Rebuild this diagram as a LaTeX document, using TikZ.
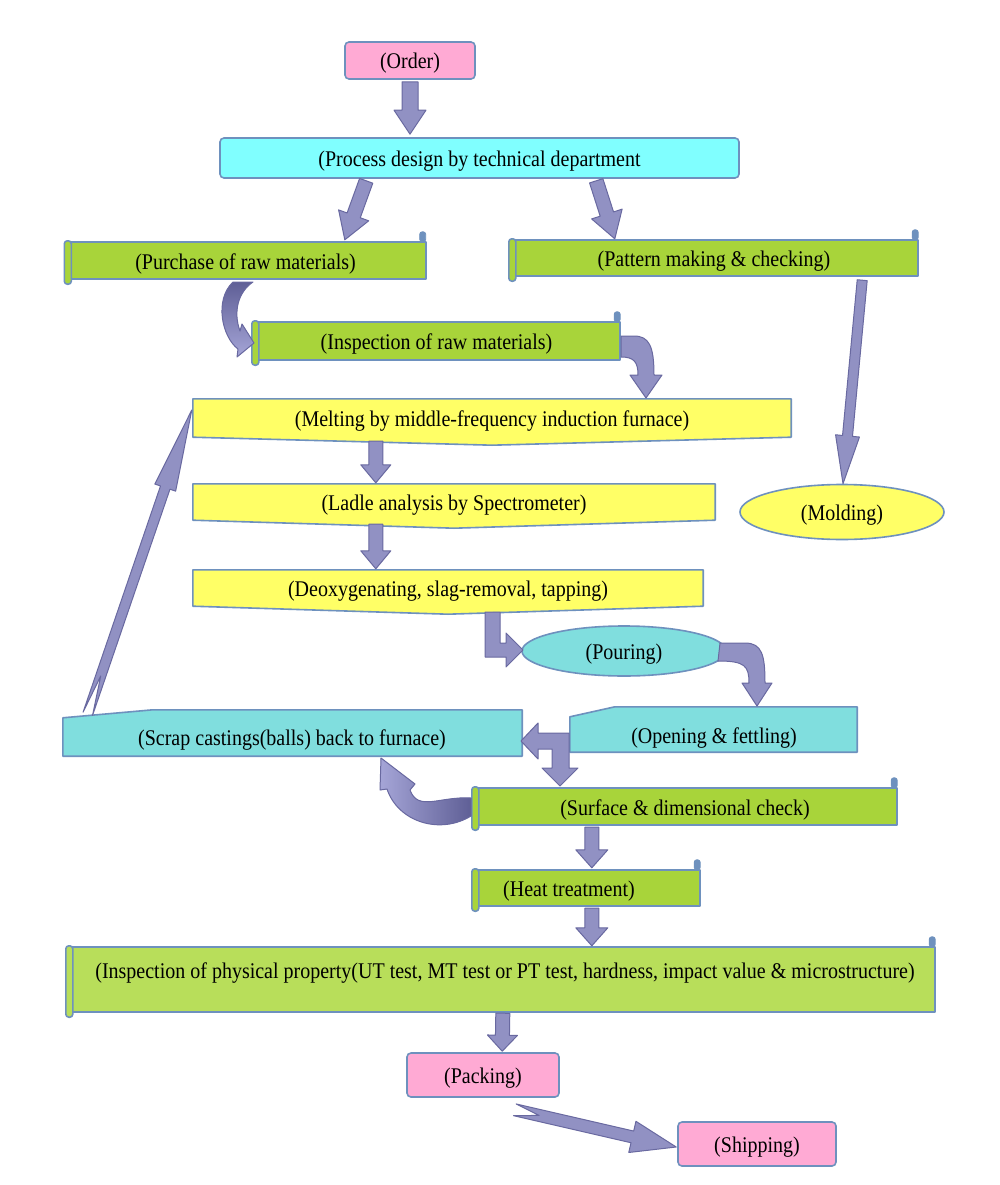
\documentclass[tikz,border=0pt]{standalone}
\usepackage{fontspec}
\usepackage{graphicx}
\setmainfont{Liberation Serif}
\usetikzlibrary{calc,shapes.geometric,backgrounds}
\definecolor{bord}{RGB}{110,145,190}
\definecolor{pinkf}{RGB}{255,170,212}
\definecolor{cyanA}{RGB}{128,255,255}
\definecolor{cyanB}{RGB}{128,222,222}
\definecolor{yelf}{RGB}{255,255,102}
\definecolor{grnf}{RGB}{168,212,58}
\definecolor{grnL}{RGB}{184,222,90}
\definecolor{arrf}{RGB}{145,145,195}
\definecolor{arrd}{RGB}{105,105,160}
\definecolor{arrk}{RGB}{95,95,150}
\definecolor{arrl}{RGB}{165,165,215}
\newcommand{\vtx}[1]{\scalebox{1}[1.12]{#1}}
\tikzset{
  lbl/.style={font=\fontsize{20}{22}\selectfont, text height=21pt, text depth=4pt},
  plain/.style={rectangle, inner sep=0, lbl},
  pinkbox/.style={plain, draw=bord, fill=pinkf, line width=1.6, rounded corners=4},
  cyanbox/.style={plain, draw=bord, fill=cyanA, line width=1.6, rounded corners=4},
  ovalnode/.style={ellipse, inner sep=0, draw=bord, line width=1.6, lbl},
  shapeline/.style={draw=bord, line width=1.6, line join=round},
  arrsty/.style={fill=arrf, draw=arrd, line width=1, line join=round},
}
\newcommand{\bxarrow}[5]{%
  \coordinate (bxh) at ($(#2)!#5!(#1)$);
  \filldraw[arrsty] ($(#1)!#3!90:(#2)$) -- ($(bxh)!#3!-90:(#1)$) -- ($(bxh)!#4!-90:(#1)$) -- (#2) -- ($(bxh)!#4!90:(#1)$) -- ($(bxh)!#3!90:(#1)$) -- ($(#1)!#3!-90:(#2)$) -- cycle;}
\newcommand{\bxarrowN}[6]{%
  \coordinate (bxh) at ($(#2)!#5!(#1)$);
  \filldraw[arrsty] ($(#1)!#3!90:(#2)$) -- ($(bxh)!#3!-90:(#1)$) -- ($(bxh)!#4!-90:(#1)$) -- (#2) -- ($(bxh)!#4!90:(#1)$) -- ($(bxh)!#3!90:(#1)$) -- ($(#1)!#3!-90:(#2)$) -- ($(#1)!#6!(#2)$) -- cycle;}
\newcommand{\greenscroll}[2][grnf]{%
  \begin{pgfonlayer}{background}
  \filldraw[shapeline, fill=bord, rounded corners=2.5, line width=0.8] ($(#2.north east)+(-6,0)$) rectangle ($(#2.north east)+(0,-10)$);
  \filldraw[shapeline, fill=#1] ($(#2.north west)+(3,0)$) rectangle (#2.south east);
  \filldraw[shapeline, fill=#1, rounded corners=3] ($(#2.north west)+(-1,-1)$) rectangle ($(#2.south west)+(6,5)$);
  \end{pgfonlayer}}
\newcommand{\yellowpent}[1]{%
  \begin{pgfonlayer}{background}
  \filldraw[shapeline, fill=yelf] (#1.north west) -- (#1.north east) -- (#1.south east) -- ($(#1.south)+(0,8)$) -- (#1.south west) -- cycle;
  \end{pgfonlayer}}
\newcommand{\cyanchamf}[3]{%
  \begin{pgfonlayer}{background}
  \filldraw[shapeline, fill=cyanB] (#1.south west) -- ($(#1.north west)+(0,#3)$) -- ($(#1.north west)+(#2,0)$) -- (#1.north east) -- (#1.south east) -- cycle;
  \end{pgfonlayer}}
\begin{document}
\begin{tikzpicture}[x=1pt,y=-1pt]
\begin{pgfonlayer}{background}
\fill[white] (0,0) rectangle (1000,1185);
\end{pgfonlayer}
\useasboundingbox (0,0) rectangle (1000,1185);

% nodes
\node[pinkbox, minimum width=130, minimum height=37] (order) at (410,60.5) {\vtx{(Order)}};
\node[cyanbox, minimum width=519, minimum height=40] (process) at (479.5,158) {\vtx{(Process design by technical department}};
\node[plain, minimum width=360, minimum height=37] (purchase) at (245.5,260.5) {\vtx{(Purchase of raw materials)}};
\node[plain, minimum width=408, minimum height=36] (pattern) at (714,258) {\vtx{(Pattern making \& checking)}};
\node[plain, minimum width=367, minimum height=38] (inspect) at (436.5,341) {\vtx{(Inspection of raw materials)}};
\node[plain, minimum width=598, minimum height=38] (melting) at (492,418) {\vtx{(Melting by middle-frequency induction furnace)}};
\node[plain, minimum width=522, minimum height=36] (ladle) at (454,502) {\vtx{(Ladle analysis by Spectrometer)}};
\node[plain, minimum width=510, minimum height=36] (deoxy) at (448,588) {\vtx{(Deoxygenating, slag-removal, tapping)}};
\node[ovalnode, fill=yelf, minimum width=204, minimum height=55] (molding) at (842,512) {\vtx{(Molding)}};
\node[ovalnode, fill=cyanB, minimum width=204, minimum height=50] (pouring) at (624,651) {\vtx{(Pouring)}};
\node[plain, minimum width=287, minimum height=45] (opening) at (713.5,729.5) {};
\node[lbl] (openingtxt) at (714,735) {\vtx{(Opening \& fettling)}};
\node[plain, minimum width=459, minimum height=46] (scrap) at (292.5,733) {};
\node[lbl] (scraptxt) at (292,737) {\vtx{(Scrap castings(balls) back to furnace)}};
\node[plain, minimum width=424, minimum height=37] (surface) at (685,806.5) {\vtx{(Surface \& dimensional check)}};
\node[plain, minimum width=227, minimum height=36] (heat) at (586.5,888) {};
\node[lbl] (heattxt) at (569,888) {\vtx{(Heat treatment)}};
\node[plain, minimum width=868, minimum height=65] (physical) at (501,979.5) {};
\node[lbl] (physicaltxt) at (505,970) {\vtx{(Inspection of physical property(UT test, MT test or PT test, hardness, impact value \& microstructure)}};
\node[pinkbox, minimum width=152, minimum height=44] (packing) at (483,1075) {\vtx{(Packing)}};
\node[pinkbox, minimum width=158, minimum height=44] (shipping) at (757,1144) {\vtx{(Shipping)}};

% shapes behind texts
\greenscroll{purchase}
\greenscroll{pattern}
\greenscroll{inspect}
\greenscroll{surface}
\greenscroll{heat}
\greenscroll[grnL]{physical}
\yellowpent{melting}
\yellowpent{ladle}
\yellowpent{deoxy}
\cyanchamf{opening}{45}{10}
\cyanchamf{scrap}{90}{8}

% straight block arrows
\coordinate (a1s) at ($(order.south)+(0,2)$);
\coordinate (a1e) at ($(order.south |- process.north)+(0,-3)$);
\bxarrow{a1s}{a1e}{8pt}{16pt}{24pt}
\coordinate (a2s) at ($(process.south west)+(147,2)$);
\coordinate (a2e) at ($(purchase.north west)+(279.5,-2)$);
\bxarrow{a2s}{a2e}{7pt}{16pt}{26pt}
\coordinate (a3s) at ($(process.south west)+(377,2)$);
\coordinate (a3e) at ($(pattern.north west)+(105,-1)$);
\bxarrow{a3s}{a3e}{7pt}{16pt}{26pt}
\coordinate (a4s) at ($(melting.south west)+(183,4)$);
\coordinate (a4e) at ($(ladle.north west)+(183,-1)$);
\bxarrow{a4s}{a4e}{7pt}{15pt}{18pt}
\coordinate (a5s) at ($(ladle.south west)+(183,4)$);
\coordinate (a5e) at ($(deoxy.north west)+(183,-1)$);
\bxarrow{a5s}{a5e}{7pt}{15pt}{18pt}
\coordinate (a6s) at ($(surface.south west)+(119,2)$);
\coordinate (a6e) at ($(heat.north west)+(119,-2)$);
\bxarrow{a6s}{a6e}{7pt}{16pt}{18pt}
\coordinate (a7s) at ($(heat.south west)+(119,2)$);
\coordinate (a7e) at ($(physical.north west)+(525,-1)$);
\bxarrow{a7s}{a7e}{7pt}{16pt}{18pt}
\coordinate (a8s) at ($(physical.south west)+(436,1)$);
\coordinate (a8e) at ($(packing.north west)+(96,-1)$);
\bxarrow{a8s}{a8e}{7pt}{15pt}{16pt}
\coordinate (a9s) at ($(pattern.south east)+(-56,4)$);
\coordinate (a9e) at ($(molding.north)+(1,0)$);
\bxarrow{a9s}{a9e}{5pt}{12pt}{48pt}
\coordinate (a10s) at ($(scrap.north west)+(25,4)$);
\coordinate (a10e) at ($(melting.west)+(-1,-8)$);
\bxarrowN{a10s}{a10e}{5pt}{11pt}{82pt}{40pt}
\coordinate (a11s) at ($(packing.south east)+(-45,12)$);
\coordinate (a11e) at ($(shipping.west)+(-1,3)$);
\bxarrowN{a11s}{a11e}{6pt}{16pt}{45pt}{25pt}

% bent and curved block arrows
\filldraw[arrsty, top color=arrk, bottom color=arrl] (233,282) -- (253,282) .. controls (238,292) and (233,312) .. (240,331) -- (242,324) -- (254,343) -- (237,357) -- (238,349) .. controls (222,337) and (214,300) .. (233,282) -- cycle;
\filldraw[arrsty] (621,336) -- (634,336) .. controls (649,336) and (654,346) .. (654,375) -- (662,375) -- (646,398) -- (630,375) -- (638,375) .. controls (638,362) and (634,357) .. (621,357) -- cycle;
\filldraw[arrsty] (485,612) -- (500,612) -- (500,643) -- (506,643) -- (506,633) -- (523,650) -- (506,667) -- (506,657) -- (485,657) -- cycle;
\filldraw[arrsty] (720,643) -- (745,643) .. controls (762,643) and (765,655) .. (765,683) -- (772,683) -- (757,706) -- (742,683) -- (749,683) .. controls (749,666) and (745,661) .. (718,661) -- cycle;
\filldraw[arrsty] (569,733) -- (538,733) -- (538,723) -- (521,741) -- (538,759) -- (538,749) -- (552,749) -- (552,768) -- (542,768) -- (560,786) -- (578,768) -- (569,768) -- cycle;
\filldraw[arrsty, left color=arrl, right color=arrk] (471,798) .. controls (440,796) and (418,812) .. (410,790) -- (415,784) -- (381,758) -- (380,790) -- (387,789) .. controls (398,822) and (440,835) .. (471,816) -- cycle;
\end{tikzpicture}
\end{document}
